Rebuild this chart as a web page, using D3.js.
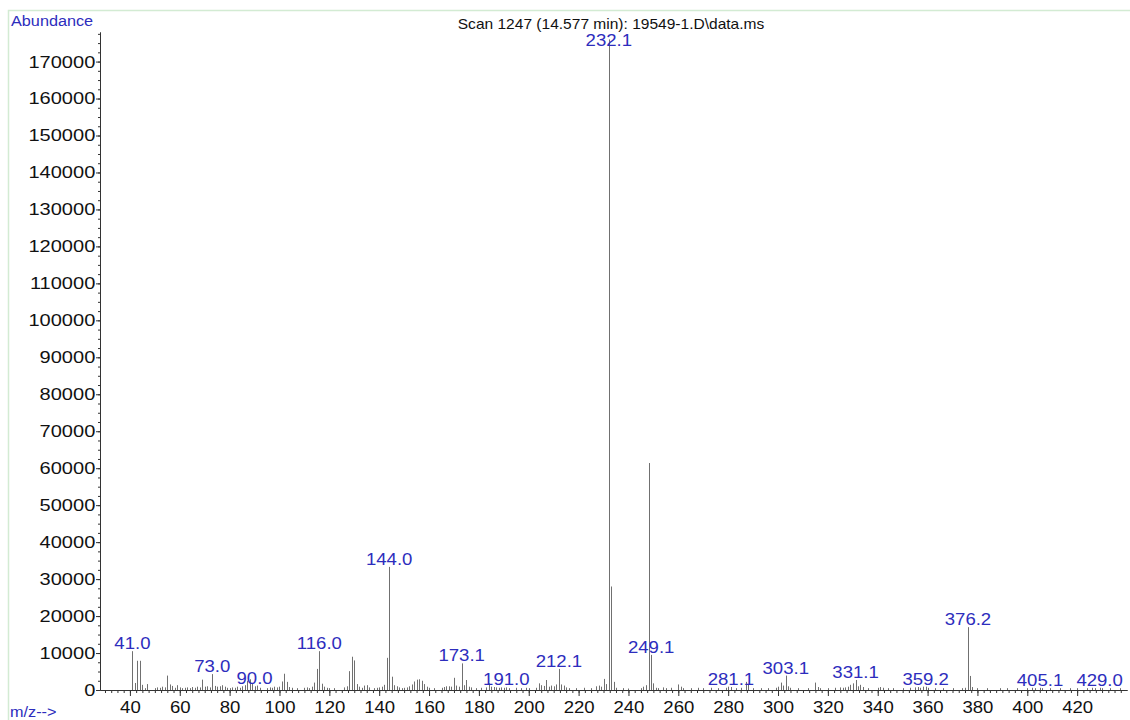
<!DOCTYPE html>
<html>
<head>
<meta charset="utf-8">
<script src="https://cdn.jsdelivr.net/npm/d3@7"></script>
<style>
  body { margin: 0; background: #fff; }
  svg { display: block; font-family: "Liberation Sans", Arial, sans-serif; }
</style>
</head>
<body>
<div id="chart"></div>
<script>
// spectrum peaks: m/z and abundance
const mz = [41.0, 42, 43, 44, 45, 46, 47, 50, 51, 52, 53, 54, 55, 56, 57, 58, 59, 60, 61, 62, 63, 64, 65, 66, 67, 68, 69, 70,
  71, 72, 73.0, 74, 75, 76, 77, 78, 79, 80, 81, 82, 83, 84, 85, 86, 87, 88, 89, 90.0, 91, 92, 95, 96, 97, 98, 99, 100,
  101, 102, 103, 104, 105, 107, 110, 111, 112, 113, 114, 115, 116.0, 117, 118, 119, 120, 122, 126, 127, 128, 129, 130,
  131, 132, 133, 134, 135, 136, 138, 139, 140, 141, 142, 143, 144.0, 145, 146, 147, 148, 149, 150, 151, 152, 153, 154,
  155, 156, 157, 158, 159, 160, 162, 165, 166, 167, 168, 169, 170, 171, 172, 173.1, 174, 175, 176, 177, 179, 181, 183,
  184, 185, 186, 187, 188, 189, 190, 191.0, 192, 195, 197, 199, 200, 203, 204, 205, 206, 207, 208, 209, 210, 211, 212.1,
  213, 214, 215, 216, 219, 222, 225, 227, 228, 229, 230, 231, 232.1, 233, 234, 235, 238, 240, 245, 246, 247, 248.2, 249.1,
  250, 251, 252, 254, 255, 257, 260, 261, 262, 265, 268, 270, 273, 276, 279, 280, 281.1, 283, 285, 287, 288, 290, 293,
  296, 299, 300, 301, 302, 303.1, 304, 305, 308, 312, 315, 316, 317, 320, 323, 325, 326, 327, 328, 329, 330, 331.1, 332,
  333, 334, 336, 340, 341, 342, 344, 346, 350, 353, 355, 356, 357, 358, 359.2, 360, 363, 366, 370, 374, 375, 376.2, 377,
  378, 380, 384, 389, 392, 396, 400, 402, 403, 405.1, 406, 409, 413, 417, 420, 424, 426, 427, 429.0, 430, 433, 437];
const abundance = [10500, 1900, 7900, 7900, 1400, 500, 1600, 500, 700, 600, 900, 700, 3900, 1500, 1100, 600, 1300, 700,
  500, 600, 700, 500, 800, 600, 900, 700, 2800, 900,
  1000, 700, 4300, 1100, 900, 1000, 1300, 900, 600, 500, 700, 600, 900, 600, 1000, 1300, 2500, 2900, 1800, 1000, 1200,
  600, 500, 700, 600, 900, 700, 900,
  2300, 4400, 2200, 800, 600, 500, 600, 700, 500, 900, 2000, 5700, 10500, 1700, 900, 600, 500, 500, 700, 1000, 5100,
  9000, 8000,
  1600, 900, 600, 1200, 1300, 700, 500, 600, 700, 900, 1400, 8700, 33300, 3600, 1300, 1000, 700, 500, 600, 700, 1000,
  1500, 2300,
  2800, 2900, 2500, 1600, 900, 600, 500, 600, 800, 1000, 1000, 900, 3300, 1200, 900, 7200, 1300, 2700, 900, 700, 500,
  600, 700,
  1800, 900, 800, 700, 600, 700, 600, 700, 500, 600, 500, 600, 500, 600, 1800, 1300, 1100, 2700, 900, 1200, 1000, 1500,
  5700,
  1500, 1200, 700, 500, 500, 600, 500, 1000, 1200, 900, 3000, 1600, 176000, 28000, 2200, 600, 500, 400, 500, 900, 1300,
  61400, 9500,
  1800, 600, 500, 700, 500, 600, 1500, 900, 500, 500, 600, 500, 600, 500, 600, 900, 800, 500, 600, 2200, 1400, 500, 500,
  500, 600, 900, 2000, 1200, 3900, 1000, 600, 500, 500, 2000, 800, 500, 500, 600, 700, 600, 700, 900, 1400, 1800, 2700,
  1000,
  1400, 800, 500, 600, 800, 600, 500, 500, 500, 600, 700, 800, 600, 900, 900, 600, 500, 500, 500, 500, 600, 17000, 3800,
  800, 500, 500, 500, 500, 500, 500, 600, 500, 600, 500, 500, 500, 500, 500, 500, 600, 500, 600, 500, 500, 500];

// peaks that carry a label
const labelled = [41.0, 73.0, 90.0, 116.0, 144.0, 173.1, 191.0, 212.1, 232.1, 249.1, 281.1, 303.1, 331.1, 359.2,
  376.2, 405.1, 429.0];

const xMajor = d3.range(40, 421, 20);
const xMinor = d3.range(30, 440, 2.5);
const yMajor = d3.range(0, 170001, 10000);
const yMinor = d3.range(0, 177501, 2500);

const title = "Scan 1247 (14.577 min): 19549-1.D\\data.ms";
const blue = "#2d2dbd";
const stretch = "scale(1.16,1)"; // the scan is a little wide, text too

const width = 1130, height = 720;
const svg = d3.select("#chart").append("svg")
  .attr("width", width).attr("height", height);

// faint green frame of the report page
svg.append("path")
  .attr("d", `M8.5,${height} V10.5 H${width}`)
  .attr("fill", "none").attr("stroke", "#d3ebd3").attr("stroke-width", 1.5);

const x = d3.scaleLinear().domain([28, 440]).range([100, 1127]);
const y = d3.scaleLinear().domain([0, 178000]).range([690, 32]);

// peaks
svg.append("g")
  .selectAll("line")
  .data(mz.map((m, i) => ({m, v: abundance[i]})))
  .join("line")
  .attr("x1", d => Math.round(x(d.m)) + 0.5)
  .attr("x2", d => Math.round(x(d.m)) + 0.5)
  .attr("y1", y(0))
  .attr("y2", d => y(d.v))
  .attr("stroke", "#707070")
  .attr("stroke-width", 1);

// y axis
const yAxis = svg.append("g").attr("transform", "translate(100,0)");
yAxis.call(d3.axisLeft(y).tickValues(yMinor).tickSize(2).tickSizeOuter(0).tickFormat(""));
yAxis.append("g").call(d3.axisLeft(y).tickValues(yMajor).tickSize(4).tickSizeOuter(0).tickPadding(0)
  .tickFormat(d3.format("d")));
yAxis.selectAll("path, line").attr("stroke", "#333");
yAxis.selectAll("text")
  .style("font-size", "17px").style("font-family", "'Liberation Sans', Arial, sans-serif")
  .attr("fill", "#111")
  .attr("transform", "scale(1.18,1)");

// x axis
const xAxis = svg.append("g").attr("transform", `translate(0,${y(0)})`);
xAxis.call(d3.axisBottom(x).tickValues(xMinor).tickSize(3).tickSizeOuter(0).tickFormat(""));
xAxis.append("g").call(d3.axisBottom(x).tickValues(xMajor).tickSize(6).tickSizeOuter(0).tickPadding(6)
  .tickFormat(d3.format("d")));
xAxis.selectAll("path, line").attr("stroke", "#333");
xAxis.selectAll("text")
  .style("font-size", "16px").style("font-family", "'Liberation Sans', Arial, sans-serif")
  .attr("fill", "#111")
  .attr("transform", stretch);

// peak labels
svg.append("g")
  .selectAll("g")
  .data(labelled)
  .join("g")
  .attr("transform", d => {
    const v = abundance[mz.indexOf(d)];
    return `translate(${x(d)},${Math.max(y(v) - 2, 46)})`;
  })
  .append("text")
  .attr("transform", stretch)
  .attr("text-anchor", "middle")
  .attr("font-size", 16)
  .attr("fill", blue)
  .text(d => d.toFixed(1));

// captions
svg.append("text")
  .attr("transform", `translate(11,26) ${stretch}`)
  .attr("font-size", 14).attr("fill", blue)
  .text("Abundance");

svg.append("text")
  .attr("transform", "translate(611,29) scale(1.11,1)")
  .attr("text-anchor", "middle")
  .attr("font-size", 14).attr("fill", "#111")
  .text(title);

svg.append("text")
  .attr("transform", `translate(10,717) ${stretch}`)
  .attr("font-size", 14).attr("fill", blue)
  .text("m/z-->");
</script>
</body>
</html>
